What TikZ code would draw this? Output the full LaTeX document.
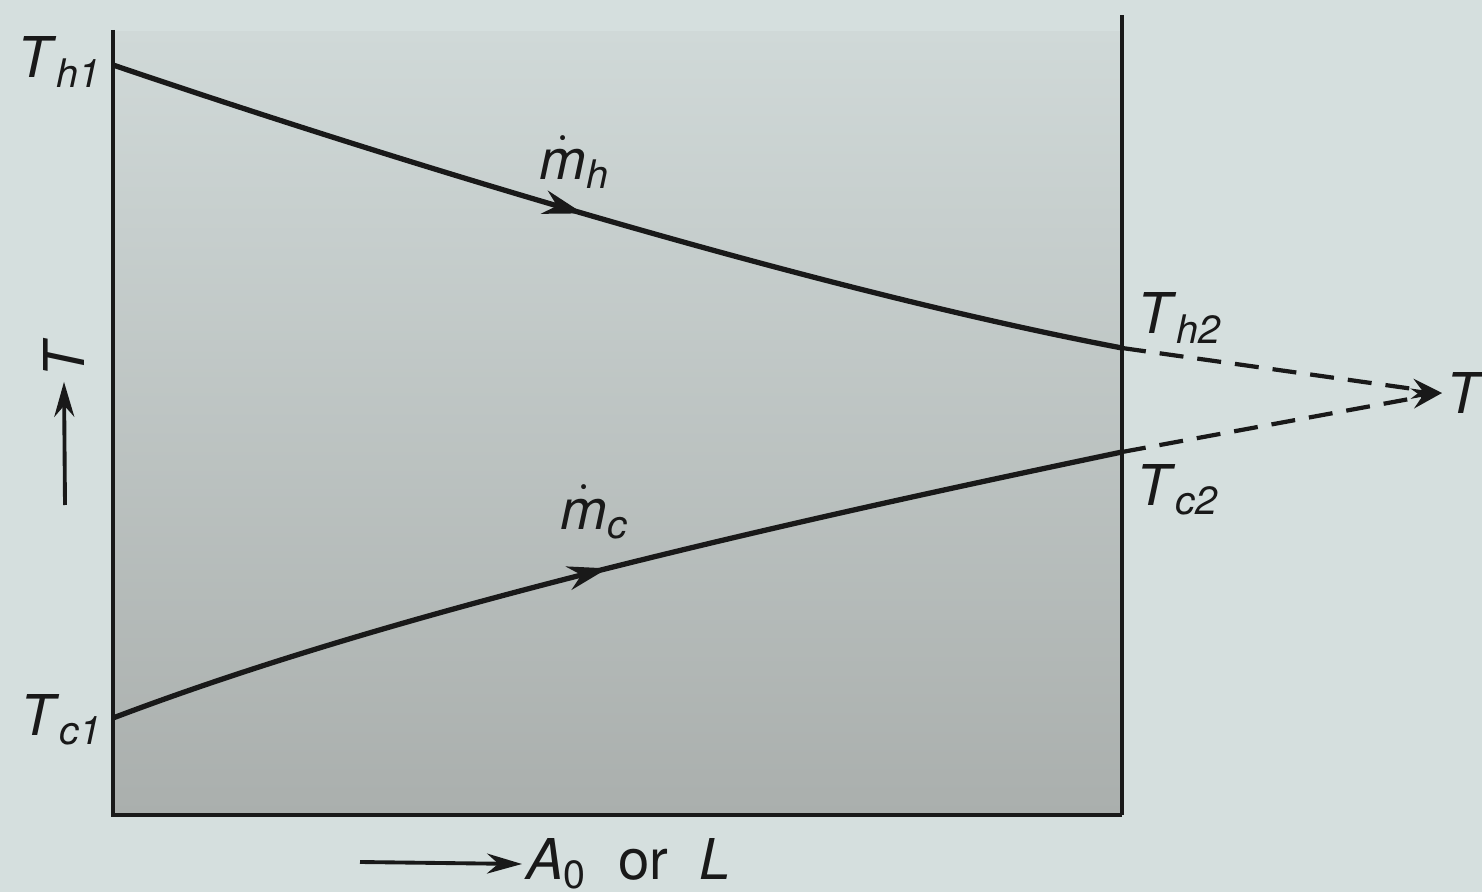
\documentclass[tikz,border=0pt]{standalone}
\usepackage{amsmath}
\usepackage{fontspec}
\setmainfont{TeX Gyre Heros}
\usepackage{tikz}
\usetikzlibrary{arrows.meta,decorations.markings}
\definecolor{hxpaper}{RGB}{213,223,222}
\definecolor{hxshadetop}{RGB}{208,217,216}
\definecolor{hxshadebot}{RGB}{170,175,173}
\definecolor{hxink}{RGB}{25,25,25}
\newcommand{\tlab}[1]{\textit{T}\textsubscript{\itshape #1}}
\newcommand{\mlab}[1]{$\dot{\text{\itshape m}}$\textsubscript{\itshape #1}}

\begin{document}
\begin{tikzpicture}[
    lbl/.style={font=\fontsize{16}{19}\selectfont, text=hxink, inner sep=1pt},
    flow/.style={hxink, line width=1.5pt},
    ext/.style={hxink, line width=1.2pt, dash pattern=on 2.4mm off 1.4mm, -{Stealth[length=3mm,width=2mm]}},
    midarrow/.style={postaction={decorate}, decoration={markings,
      mark=at position #1 with {\arrow{Stealth[length=4mm,width=2.4mm]}}}}
  ]
  \useasboundingbox (0,0) rectangle (14.82,8.92);
  % Paper and shaded box
  \fill[hxpaper] (0,0) rectangle (14.82,8.92);
  \shade[top color=hxshadetop, bottom color=hxshadebot] (1.13,0.77) rectangle (11.22,8.6);
  % Axes and right wall
  \draw[hxink, line width=1pt] (1.13,8.62) -- (1.13,0.77) -- (11.22,0.77);
  \draw[hxink, line width=1pt] (11.22,0.77) -- (11.22,8.77);
  % End points
  \coordinate (h1) at (1.13,8.27);
  \coordinate (h2) at (11.22,5.44);
  \coordinate (c1) at (1.13,1.74);
  \coordinate (c2) at (11.22,4.40);
  % Hot and cold streams
  \draw[flow, midarrow=0.47] (h1) .. controls (4.13,7.25) and (8.22,6.01) .. (h2);
  \draw[flow, midarrow=0.495] (c1) .. controls (4.13,2.88) and (8.22,3.77) .. (c2);
  % Extrapolation to T
  \node[lbl, anchor=west] (tinf) at (14.42,4.99) {\textit{T}};
  \draw[ext] (h2) -- (tinf.west);
  \draw[ext] (c2) -- (tinf.west);
  % Labels
  \node[lbl] (th1) at (0.6,8.3) {\tlab{h1}};
  \node[lbl] (tc1) at (0.62,1.72) {\tlab{c1}};
  \node[lbl] (th2) at (11.8,5.74) {\tlab{h2}};
  \node[lbl] (tc2) at (11.78,4.02) {\tlab{c2}};
  \node[lbl] (mh) at (5.75,7.3) {\mlab{h}};
  \node[lbl] (mc) at (5.95,3.8) {\mlab{c}};
  % Axis arrows
  \node[lbl, rotate=90] (tax) at (0.64,5.34) {\textit{T}};
  \coordinate (tfoot) at (0.65,3.87);
  \draw[hxink, line width=1.1pt, -{Stealth[length=3.5mm,width=2mm]}] (tfoot) -- (tax.west);
  \node[lbl, anchor=west] (aol) at (5.22,0.28) {\textit{A}\textsubscript{0}\ \ or\ \ \textit{L}};
  \coordinate (afoot) at (3.6,0.3);
  \draw[hxink, line width=1.1pt, -{Stealth[length=3.5mm,width=2mm]}] (afoot) -- (aol.west);
\end{tikzpicture}
\end{document}
